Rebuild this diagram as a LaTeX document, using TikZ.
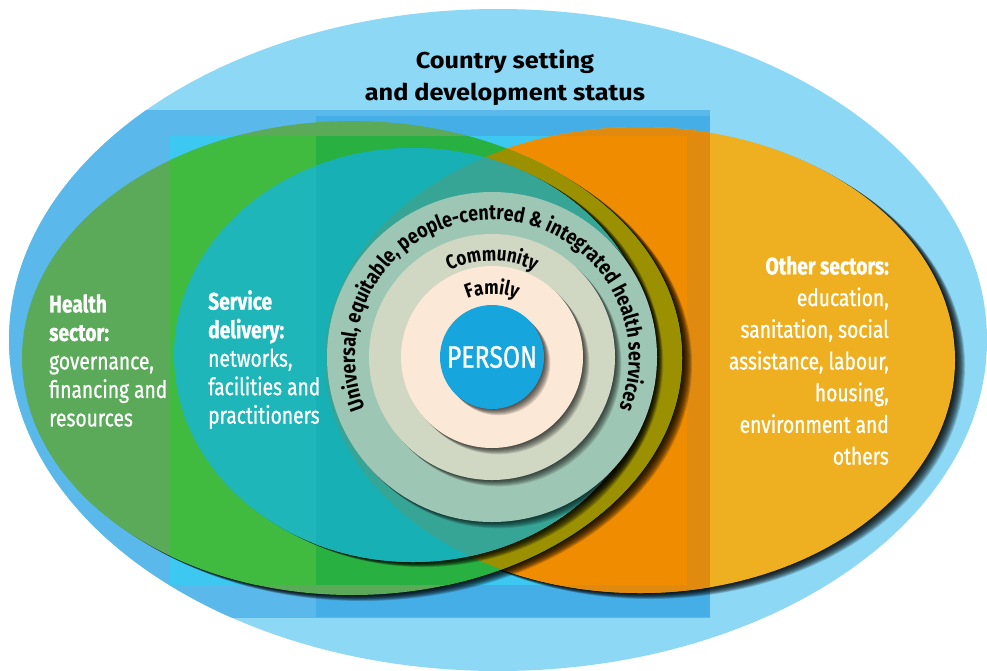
\documentclass[tikz,border=0pt]{standalone}
\usepackage{fontspec}
\setmainfont{Fira Sans}
\newfontfamily\narrowfont{Fira Sans}[FakeStretch=0.8,FakeBold=0.8]
\newfontfamily\ringface{Fira Sans}[FakeStretch=0.85]
\newfontfamily\widefont{Fira Sans}[FakeStretch=1.1]
\usetikzlibrary{decorations.text}
\definecolor{skyout}{HTML}{8DD8F5}
\definecolor{blueband}{HTML}{5AB9EA}
\definecolor{bluedeep}{HTML}{46AEE7}
\definecolor{cyanband}{HTML}{3CC8F0}
\definecolor{orangeout}{HTML}{EEB020}
\definecolor{orangemid}{HTML}{E08A10}
\definecolor{orangein}{HTML}{F08C00}
\definecolor{greenmute}{HTML}{5AAA5A}
\definecolor{greenlight}{HTML}{40BB40}
\definecolor{greendeep}{HTML}{28B040}
\definecolor{olivemix}{HTML}{9A9000}
\definecolor{tealbase}{HTML}{1EB6B8}
\definecolor{tealdeep}{HTML}{16B0B5}
\definecolor{tealmix}{HTML}{36A596}
\definecolor{ringout}{HTML}{9EC6B4}
\definecolor{ringmid}{HTML}{D0D8C4}
\definecolor{ringin}{HTML}{FBE8D6}
\definecolor{personblue}{HTML}{17A5DD}
\newcommand{\ringfont}{\ringface\bfseries\fontsize{21}{21}\selectfont}
\newcommand{\innerfont}{\ringface\bfseries\fontsize{20}{20}\selectfont}
\tikzset{shadowfill/.style={black,opacity=0.17}}
\tikzset{sectortext/.style={white,inner sep=0pt,font=\narrowfont\fontsize{24}{28.5}\selectfont}}

\begin{document}
\begin{tikzpicture}[x=1pt,y=-1pt]
                \useasboundingbox (0,0) rectangle (987,670);
                \coordinate (hub) at (492,357);
                
                % Country setting
                \fill[skyout] (498,340) ellipse [x radius=489pt, y radius=331pt];
                \begin{scope}
                    \clip (498,340) ellipse [x radius=489pt, y radius=331pt];
                    \fill[blueband] (-10,110) rectangle (710,618);
                    \fill[bluedeep] (316,116) rectangle (710,617);
                \end{scope}
                \fill[cyanband] (170,136) rectangle (687,585);
                
                % Other sectors
                \foreach \k in {1,...,10}
                    \fill[shadowfill,shift={(1.0*\k,0.6*\k)}] (640,360) ellipse [x radius=315pt, y radius=233pt];
                \fill[orangeout] (640,360) ellipse [x radius=315pt, y radius=233pt];
                \begin{scope}
                    \clip (640,360) ellipse [x radius=315pt, y radius=233pt];
                    \fill[orangemid] (-10,110) rectangle (710,618);
                    \fill[orangein] (170,136) rectangle (687,585);
                \end{scope}
                
                % Health sector
                \foreach \k in {1,...,10}
                    \fill[shadowfill,shift={(1.0*\k,0.6*\k)}] (352,358) ellipse [x radius=330pt, y radius=237pt];
                \fill[greenmute] (352,358) ellipse [x radius=330pt, y radius=237pt];
                \begin{scope}
                    \clip (352,358) ellipse [x radius=330pt, y radius=237pt];
                    \fill[greenlight] (170,136) rectangle (316,585);
                    \fill[greendeep] (316,136) rectangle (687,585);
                    \clip (640,360) ellipse [x radius=315pt, y radius=233pt];
                    \fill[olivemix] (0,0) rectangle (987,670);
                \end{scope}
                
                % Service delivery
                \foreach \k in {1,...,10}
                    \fill[shadowfill,shift={(1.0*\k,0.5*\k)}] (413,355) ellipse [x radius=239pt, y radius=207pt];
                \fill[tealbase] (413,355) ellipse [x radius=239pt, y radius=207pt];
                \begin{scope}
                    \clip (413,355) ellipse [x radius=239pt, y radius=207pt];
                    \fill[tealdeep] (316,136) rectangle (687,585);
                    \clip (640,360) ellipse [x radius=315pt, y radius=233pt];
                    \fill[tealmix] (0,0) rectangle (987,670);
                \end{scope}
                
                % Rings round the person
                \foreach \r/\c in {165/ringout,123/ringmid,91/ringin,52/personblue} {
                    \foreach \k in {1,...,7}
                        \fill[shadowfill,opacity=0.13] ([shift={(0.9*\k,0.9*\k)}]hub) circle [radius=\r pt];
                    \fill[\c] (hub) circle [radius=\r pt];
                }
                
                \path[decorate,decoration={text along path,text align=center,
                    text={|\ringfont|Universal, equitable, people-centred {\&} integrated health services}}]
                    ([shift={(205:137pt)}]hub) arc [start angle=205, end angle=-25, radius=137pt];
                \path[decorate,decoration={text along path,text align=center,
                    text={|\innerfont|Community}}]
                    ([shift={(180:96pt)}]hub) arc [start angle=180, end angle=0, radius=96pt];
                \path[decorate,decoration={text along path,text align=center,
                    text={|\innerfont|Family}}]
                    ([shift={(180:63pt)}]hub) arc [start angle=180, end angle=0, radius=63pt];
                
                % Labels
                \node[white,font=\narrowfont\fontsize{31}{31}\selectfont] (person) at (hub) {PERSON};
                \node[anchor=north,align=center,inner sep=0pt,font=\widefont\bfseries\fontsize{23}{32}\selectfont] (country) at (505,50) {Country setting\\and development status};
                \node[sectortext,anchor=north west,align=left] (health) at (49,294) {\bfseries Health\\\bfseries sector:\\governance,\\financing and\\resources};
                \node[sectortext,anchor=north west,align=left] (service) at (208,290) {\bfseries Service\\\bfseries delivery:\\networks,\\facilities and\\practitioners};
                \node[sectortext,anchor=north east,align=right,font=\narrowfont\fontsize{24}{31.7}\selectfont] (other) at (889,256) {\bfseries Other sectors:\\education,\\sanitation, social\\assistance, labour,\\housing,\\environment and\\others};
\end{tikzpicture}
\end{document}
